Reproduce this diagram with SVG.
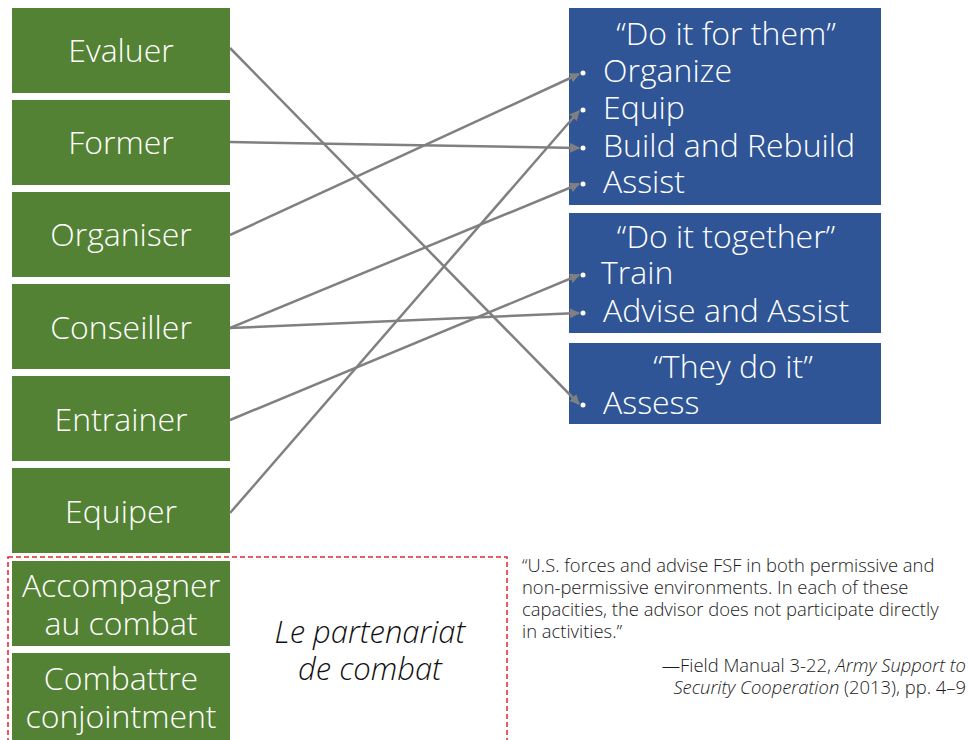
<svg xmlns="http://www.w3.org/2000/svg" width="968" height="740" viewBox="0 0 968 740">
  <style>
    .g { fill: #548235; }
    .b { fill: #2F5597; }
    .t { font-family: "Open Sans", "Liberation Sans", sans-serif; font-weight: 300; fill: #ffffff; }
    .gt { font-size: 32px; text-anchor: middle; }
    .bt { font-size: 32px; }
    .q { font-family: "Open Sans", "Liberation Sans", sans-serif; font-weight: 300; font-size: 18.4px; fill: #1a1a1a; }
    .conn line { stroke: #808080; stroke-width: 2.5; fill: none; marker-end: url(#arr); }
    .dot { fill: #ffffff; }
  </style>
  <defs>
    <marker id="arr" viewBox="0 0 10 10" refX="9" refY="5" markerWidth="4" markerHeight="4" orient="auto" markerUnits="strokeWidth">
      <path d="M0,0 L10,5 L0,10 z" fill="#808080"/>
    </marker>
  </defs>

  <rect width="968" height="740" fill="#ffffff"/>

  <!-- left column: French activities -->
  <g id="evaluer"><rect class="g" x="12" y="8" width="218" height="85"/><text class="t gt" x="121" y="62">Evaluer</text></g>
  <g id="former"><rect class="g" x="12" y="100" width="218" height="85"/><text class="t gt" x="121" y="154">Former</text></g>
  <g id="organiser"><rect class="g" x="12" y="192" width="218" height="85"/><text class="t gt" x="121" y="246">Organiser</text></g>
  <g id="conseiller"><rect class="g" x="12" y="284" width="218" height="85"/><text class="t gt" x="121" y="339">Conseiller</text></g>
  <g id="entrainer"><rect class="g" x="12" y="376" width="218" height="85"/><text class="t gt" x="121" y="431">Entrainer</text></g>
  <g id="equiper"><rect class="g" x="12" y="468" width="218" height="85"/><text class="t gt" x="121" y="523">Equiper</text></g>
  <g id="accompagner"><rect class="g" x="12" y="561" width="218" height="85"/><text class="t gt" x="121" y="597">Accompagner</text><text class="t gt" x="121" y="635">au combat</text></g>
  <g id="combattre"><rect class="g" x="12" y="653" width="218" height="87"/><text class="t gt" x="121" y="690">Combattre</text><text class="t gt" x="121" y="728">conjointment</text></g>

  <!-- combat partnership frame -->
  <g id="partenariat">
    <rect x="8" y="557" width="499" height="190" fill="none" stroke="#e3242f" stroke-width="1.5" stroke-dasharray="5,3"/>
    <text x="370" y="643" font-family="'Open Sans', 'Liberation Sans', sans-serif" font-weight="300" font-style="italic" font-size="31" fill="#111111" text-anchor="middle">Le partenariat</text>
    <text x="370" y="680" font-family="'Open Sans', 'Liberation Sans', sans-serif" font-weight="300" font-style="italic" font-size="31" fill="#111111" text-anchor="middle">de combat</text>
  </g>

  <!-- right column: US doctrine categories -->
  <g id="for-them">
    <rect class="b" x="569" y="8" width="312" height="197"/>
    <text class="t bt" x="726" y="45" text-anchor="middle">“Do it for them”</text>
    <circle class="dot" cx="583" cy="73" r="2.5"/><text class="t bt" x="603" y="82">Organize</text>
    <circle class="dot" cx="583" cy="110" r="2.5"/><text class="t bt" x="603" y="119">Equip</text>
    <circle class="dot" cx="583" cy="148" r="2.5"/><text class="t bt" x="603" y="157">Build and Rebuild</text>
    <circle class="dot" cx="583" cy="184" r="2.5"/><text class="t bt" x="603" y="193">Assist</text>
  </g>
  <g id="together">
    <rect class="b" x="569" y="213" width="312" height="120"/>
    <text class="t bt" x="726" y="248" text-anchor="middle">“Do it together”</text>
    <circle class="dot" cx="583" cy="275" r="2.5"/><text class="t bt" x="601" y="284">Train</text>
    <circle class="dot" cx="583" cy="313" r="2.5"/><text class="t bt" x="603" y="322">Advise and Assist</text>
  </g>
  <g id="they-do">
    <rect class="b" x="569" y="343" width="312" height="81"/>
    <text class="t bt" x="733" y="378" text-anchor="middle">“They do it”</text>
    <circle class="dot" cx="583" cy="405" r="2.5"/><text class="t bt" x="603" y="414">Assess</text>
  </g>

  <!-- connectors -->
  <g class="conn">
    <line x1="230" y1="48" x2="579" y2="404"/>
    <line x1="230" y1="142" x2="579" y2="148"/>
    <line x1="230" y1="235" x2="579" y2="74"/>
    <line x1="230" y1="328" x2="579" y2="184"/>
    <line x1="230" y1="328" x2="579" y2="313"/>
    <line x1="230" y1="420" x2="579" y2="275"/>
    <line x1="230" y1="513" x2="579" y2="111"/>
  </g>

  <!-- quotation -->
  <g id="quote">
    <text class="q" x="522" y="572">“U.S. forces and advise FSF in both permissive and</text>
    <text class="q" x="522" y="594">non-permissive environments. In each of these</text>
    <text class="q" x="522" y="616">capacities, the advisor does not participate directly</text>
    <text class="q" x="522" y="638">in activities.”</text>
    <text class="q" x="966" y="672" text-anchor="end">—Field Manual 3-22, <tspan font-style="italic">Army Support to</tspan></text>
    <text class="q" x="966" y="694" text-anchor="end"><tspan font-style="italic">Security Cooperation</tspan> (2013), pp. 4–9</text>
  </g>
</svg>
